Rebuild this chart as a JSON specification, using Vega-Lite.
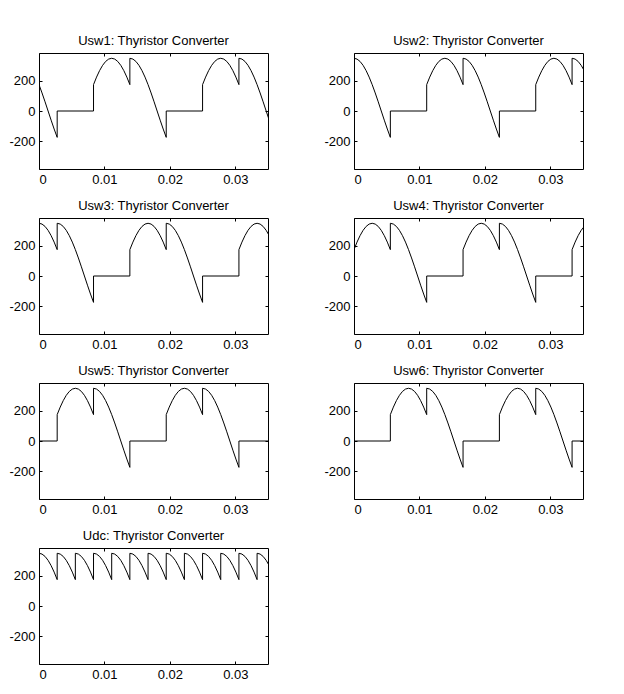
{
"$schema": "https://vega.github.io/schema/vega-lite/v6.json",
"background": "white",
"padding": {"left": 8, "top": 34, "right": 5, "bottom": 0},
"datasets": {"d": [
{"s":"Usw1","t":0,"v":175},{"s":"Usw1","t":0.000463,"v":119.7},{"s":"Usw1","t":0.000926,"v":60.8},{"s":"Usw1","t":0.001389,"v":0},{"s":"Usw1","t":0.001852,"v":-60.8},{"s":"Usw1","t":0.002315,"v":-119.7},{"s":"Usw1","t":0.002778,"v":-175},{"s":"Usw1","t":0.002778,"v":0},{"s":"Usw1","t":0.008333,"v":0},{"s":"Usw1","t":0.008333,"v":175},{"s":"Usw1","t":0.008796,"v":225},{"s":"Usw1","t":0.009259,"v":268.1},{"s":"Usw1","t":0.009722,"v":303.1},{"s":"Usw1","t":0.010185,"v":328.9},{"s":"Usw1","t":0.010648,"v":344.7},{"s":"Usw1","t":0.011111,"v":350},{"s":"Usw1","t":0.011574,"v":344.7},{"s":"Usw1","t":0.012037,"v":328.9},{"s":"Usw1","t":0.0125,"v":303.1},{"s":"Usw1","t":0.012963,"v":268.1},{"s":"Usw1","t":0.013426,"v":225},{"s":"Usw1","t":0.013889,"v":175},{"s":"Usw1","t":0.013889,"v":350},{"s":"Usw1","t":0.014352,"v":344.7},{"s":"Usw1","t":0.014815,"v":328.9},{"s":"Usw1","t":0.015278,"v":303.1},{"s":"Usw1","t":0.015741,"v":268.1},{"s":"Usw1","t":0.016204,"v":225},{"s":"Usw1","t":0.016667,"v":175},{"s":"Usw1","t":0.01713,"v":119.7},{"s":"Usw1","t":0.017593,"v":60.8},{"s":"Usw1","t":0.018056,"v":0},{"s":"Usw1","t":0.018519,"v":-60.8},{"s":"Usw1","t":0.018981,"v":-119.7},{"s":"Usw1","t":0.019444,"v":-175},{"s":"Usw1","t":0.019444,"v":0},{"s":"Usw1","t":0.025,"v":0},{"s":"Usw1","t":0.025,"v":175},{"s":"Usw1","t":0.025463,"v":225},{"s":"Usw1","t":0.025926,"v":268.1},{"s":"Usw1","t":0.026389,"v":303.1},{"s":"Usw1","t":0.026852,"v":328.9},{"s":"Usw1","t":0.027315,"v":344.7},{"s":"Usw1","t":0.027778,"v":350},{"s":"Usw1","t":0.028241,"v":344.7},{"s":"Usw1","t":0.028704,"v":328.9},{"s":"Usw1","t":0.029167,"v":303.1},{"s":"Usw1","t":0.02963,"v":268.1},{"s":"Usw1","t":0.030093,"v":225},{"s":"Usw1","t":0.030556,"v":175},{"s":"Usw1","t":0.030556,"v":350},{"s":"Usw1","t":0.031019,"v":344.7},{"s":"Usw1","t":0.031481,"v":328.9},{"s":"Usw1","t":0.031944,"v":303.1},{"s":"Usw1","t":0.032407,"v":268.1},{"s":"Usw1","t":0.03287,"v":225},{"s":"Usw1","t":0.033333,"v":175},{"s":"Usw1","t":0.033796,"v":119.7},{"s":"Usw1","t":0.034259,"v":60.8},{"s":"Usw1","t":0.034722,"v":0},{"s":"Usw1","t":0.035185,"v":-60.8},
{"s":"Usw2","t":0,"v":350},{"s":"Usw2","t":0.000463,"v":344.7},{"s":"Usw2","t":0.000926,"v":328.9},{"s":"Usw2","t":0.001389,"v":303.1},{"s":"Usw2","t":0.001852,"v":268.1},{"s":"Usw2","t":0.002315,"v":225},{"s":"Usw2","t":0.002778,"v":175},{"s":"Usw2","t":0.003241,"v":119.7},{"s":"Usw2","t":0.003704,"v":60.8},{"s":"Usw2","t":0.004167,"v":0},{"s":"Usw2","t":0.00463,"v":-60.8},{"s":"Usw2","t":0.005093,"v":-119.7},{"s":"Usw2","t":0.005556,"v":-175},{"s":"Usw2","t":0.005556,"v":0},{"s":"Usw2","t":0.011111,"v":0},{"s":"Usw2","t":0.011111,"v":175},{"s":"Usw2","t":0.011574,"v":225},{"s":"Usw2","t":0.012037,"v":268.1},{"s":"Usw2","t":0.0125,"v":303.1},{"s":"Usw2","t":0.012963,"v":328.9},{"s":"Usw2","t":0.013426,"v":344.7},{"s":"Usw2","t":0.013889,"v":350},{"s":"Usw2","t":0.014352,"v":344.7},{"s":"Usw2","t":0.014815,"v":328.9},{"s":"Usw2","t":0.015278,"v":303.1},{"s":"Usw2","t":0.015741,"v":268.1},{"s":"Usw2","t":0.016204,"v":225},{"s":"Usw2","t":0.016667,"v":175},{"s":"Usw2","t":0.016667,"v":350},{"s":"Usw2","t":0.01713,"v":344.7},{"s":"Usw2","t":0.017593,"v":328.9},{"s":"Usw2","t":0.018056,"v":303.1},{"s":"Usw2","t":0.018519,"v":268.1},{"s":"Usw2","t":0.018981,"v":225},{"s":"Usw2","t":0.019444,"v":175},{"s":"Usw2","t":0.019907,"v":119.7},{"s":"Usw2","t":0.02037,"v":60.8},{"s":"Usw2","t":0.020833,"v":0},{"s":"Usw2","t":0.021296,"v":-60.8},{"s":"Usw2","t":0.021759,"v":-119.7},{"s":"Usw2","t":0.022222,"v":-175},{"s":"Usw2","t":0.022222,"v":0},{"s":"Usw2","t":0.027778,"v":0},{"s":"Usw2","t":0.027778,"v":175},{"s":"Usw2","t":0.028241,"v":225},{"s":"Usw2","t":0.028704,"v":268.1},{"s":"Usw2","t":0.029167,"v":303.1},{"s":"Usw2","t":0.02963,"v":328.9},{"s":"Usw2","t":0.030093,"v":344.7},{"s":"Usw2","t":0.030556,"v":350},{"s":"Usw2","t":0.031019,"v":344.7},{"s":"Usw2","t":0.031481,"v":328.9},{"s":"Usw2","t":0.031944,"v":303.1},{"s":"Usw2","t":0.032407,"v":268.1},{"s":"Usw2","t":0.03287,"v":225},{"s":"Usw2","t":0.033333,"v":175},{"s":"Usw2","t":0.033333,"v":350},{"s":"Usw2","t":0.033796,"v":344.7},{"s":"Usw2","t":0.034259,"v":328.9},{"s":"Usw2","t":0.034722,"v":303.1},{"s":"Usw2","t":0.035185,"v":268.1},
{"s":"Usw3","t":0,"v":350},{"s":"Usw3","t":0.000463,"v":344.7},{"s":"Usw3","t":0.000926,"v":328.9},{"s":"Usw3","t":0.001389,"v":303.1},{"s":"Usw3","t":0.001852,"v":268.1},{"s":"Usw3","t":0.002315,"v":225},{"s":"Usw3","t":0.002778,"v":175},{"s":"Usw3","t":0.002778,"v":350},{"s":"Usw3","t":0.003241,"v":344.7},{"s":"Usw3","t":0.003704,"v":328.9},{"s":"Usw3","t":0.004167,"v":303.1},{"s":"Usw3","t":0.00463,"v":268.1},{"s":"Usw3","t":0.005093,"v":225},{"s":"Usw3","t":0.005556,"v":175},{"s":"Usw3","t":0.006019,"v":119.7},{"s":"Usw3","t":0.006481,"v":60.8},{"s":"Usw3","t":0.006944,"v":0},{"s":"Usw3","t":0.007407,"v":-60.8},{"s":"Usw3","t":0.00787,"v":-119.7},{"s":"Usw3","t":0.008333,"v":-175},{"s":"Usw3","t":0.008333,"v":0},{"s":"Usw3","t":0.013889,"v":0},{"s":"Usw3","t":0.013889,"v":175},{"s":"Usw3","t":0.014352,"v":225},{"s":"Usw3","t":0.014815,"v":268.1},{"s":"Usw3","t":0.015278,"v":303.1},{"s":"Usw3","t":0.015741,"v":328.9},{"s":"Usw3","t":0.016204,"v":344.7},{"s":"Usw3","t":0.016667,"v":350},{"s":"Usw3","t":0.01713,"v":344.7},{"s":"Usw3","t":0.017593,"v":328.9},{"s":"Usw3","t":0.018056,"v":303.1},{"s":"Usw3","t":0.018519,"v":268.1},{"s":"Usw3","t":0.018981,"v":225},{"s":"Usw3","t":0.019444,"v":175},{"s":"Usw3","t":0.019444,"v":350},{"s":"Usw3","t":0.019907,"v":344.7},{"s":"Usw3","t":0.02037,"v":328.9},{"s":"Usw3","t":0.020833,"v":303.1},{"s":"Usw3","t":0.021296,"v":268.1},{"s":"Usw3","t":0.021759,"v":225},{"s":"Usw3","t":0.022222,"v":175},{"s":"Usw3","t":0.022685,"v":119.7},{"s":"Usw3","t":0.023148,"v":60.8},{"s":"Usw3","t":0.023611,"v":0},{"s":"Usw3","t":0.024074,"v":-60.8},{"s":"Usw3","t":0.024537,"v":-119.7},{"s":"Usw3","t":0.025,"v":-175},{"s":"Usw3","t":0.025,"v":0},{"s":"Usw3","t":0.030556,"v":0},{"s":"Usw3","t":0.030556,"v":175},{"s":"Usw3","t":0.031019,"v":225},{"s":"Usw3","t":0.031481,"v":268.1},{"s":"Usw3","t":0.031944,"v":303.1},{"s":"Usw3","t":0.032407,"v":328.9},{"s":"Usw3","t":0.03287,"v":344.7},{"s":"Usw3","t":0.033333,"v":350},{"s":"Usw3","t":0.033796,"v":344.7},{"s":"Usw3","t":0.034259,"v":328.9},{"s":"Usw3","t":0.034722,"v":303.1},{"s":"Usw3","t":0.035185,"v":268.1},
{"s":"Usw4","t":0,"v":175},{"s":"Usw4","t":0.000463,"v":225},{"s":"Usw4","t":0.000926,"v":268.1},{"s":"Usw4","t":0.001389,"v":303.1},{"s":"Usw4","t":0.001852,"v":328.9},{"s":"Usw4","t":0.002315,"v":344.7},{"s":"Usw4","t":0.002778,"v":350},{"s":"Usw4","t":0.003241,"v":344.7},{"s":"Usw4","t":0.003704,"v":328.9},{"s":"Usw4","t":0.004167,"v":303.1},{"s":"Usw4","t":0.00463,"v":268.1},{"s":"Usw4","t":0.005093,"v":225},{"s":"Usw4","t":0.005556,"v":175},{"s":"Usw4","t":0.005556,"v":350},{"s":"Usw4","t":0.006019,"v":344.7},{"s":"Usw4","t":0.006481,"v":328.9},{"s":"Usw4","t":0.006944,"v":303.1},{"s":"Usw4","t":0.007407,"v":268.1},{"s":"Usw4","t":0.00787,"v":225},{"s":"Usw4","t":0.008333,"v":175},{"s":"Usw4","t":0.008796,"v":119.7},{"s":"Usw4","t":0.009259,"v":60.8},{"s":"Usw4","t":0.009722,"v":0},{"s":"Usw4","t":0.010185,"v":-60.8},{"s":"Usw4","t":0.010648,"v":-119.7},{"s":"Usw4","t":0.011111,"v":-175},{"s":"Usw4","t":0.011111,"v":0},{"s":"Usw4","t":0.016667,"v":0},{"s":"Usw4","t":0.016667,"v":175},{"s":"Usw4","t":0.01713,"v":225},{"s":"Usw4","t":0.017593,"v":268.1},{"s":"Usw4","t":0.018056,"v":303.1},{"s":"Usw4","t":0.018519,"v":328.9},{"s":"Usw4","t":0.018981,"v":344.7},{"s":"Usw4","t":0.019444,"v":350},{"s":"Usw4","t":0.019907,"v":344.7},{"s":"Usw4","t":0.02037,"v":328.9},{"s":"Usw4","t":0.020833,"v":303.1},{"s":"Usw4","t":0.021296,"v":268.1},{"s":"Usw4","t":0.021759,"v":225},{"s":"Usw4","t":0.022222,"v":175},{"s":"Usw4","t":0.022222,"v":350},{"s":"Usw4","t":0.022685,"v":344.7},{"s":"Usw4","t":0.023148,"v":328.9},{"s":"Usw4","t":0.023611,"v":303.1},{"s":"Usw4","t":0.024074,"v":268.1},{"s":"Usw4","t":0.024537,"v":225},{"s":"Usw4","t":0.025,"v":175},{"s":"Usw4","t":0.025463,"v":119.7},{"s":"Usw4","t":0.025926,"v":60.8},{"s":"Usw4","t":0.026389,"v":0},{"s":"Usw4","t":0.026852,"v":-60.8},{"s":"Usw4","t":0.027315,"v":-119.7},{"s":"Usw4","t":0.027778,"v":-175},{"s":"Usw4","t":0.027778,"v":0},{"s":"Usw4","t":0.033333,"v":0},{"s":"Usw4","t":0.033333,"v":175},{"s":"Usw4","t":0.033796,"v":225},{"s":"Usw4","t":0.034259,"v":268.1},{"s":"Usw4","t":0.034722,"v":303.1},{"s":"Usw4","t":0.035185,"v":328.9},
{"s":"Usw5","t":0,"v":0},{"s":"Usw5","t":0.002778,"v":0},{"s":"Usw5","t":0.002778,"v":175},{"s":"Usw5","t":0.003241,"v":225},{"s":"Usw5","t":0.003704,"v":268.1},{"s":"Usw5","t":0.004167,"v":303.1},{"s":"Usw5","t":0.00463,"v":328.9},{"s":"Usw5","t":0.005093,"v":344.7},{"s":"Usw5","t":0.005556,"v":350},{"s":"Usw5","t":0.006019,"v":344.7},{"s":"Usw5","t":0.006481,"v":328.9},{"s":"Usw5","t":0.006944,"v":303.1},{"s":"Usw5","t":0.007407,"v":268.1},{"s":"Usw5","t":0.00787,"v":225},{"s":"Usw5","t":0.008333,"v":175},{"s":"Usw5","t":0.008333,"v":350},{"s":"Usw5","t":0.008796,"v":344.7},{"s":"Usw5","t":0.009259,"v":328.9},{"s":"Usw5","t":0.009722,"v":303.1},{"s":"Usw5","t":0.010185,"v":268.1},{"s":"Usw5","t":0.010648,"v":225},{"s":"Usw5","t":0.011111,"v":175},{"s":"Usw5","t":0.011574,"v":119.7},{"s":"Usw5","t":0.012037,"v":60.8},{"s":"Usw5","t":0.0125,"v":0},{"s":"Usw5","t":0.012963,"v":-60.8},{"s":"Usw5","t":0.013426,"v":-119.7},{"s":"Usw5","t":0.013889,"v":-175},{"s":"Usw5","t":0.013889,"v":0},{"s":"Usw5","t":0.019444,"v":0},{"s":"Usw5","t":0.019444,"v":175},{"s":"Usw5","t":0.019907,"v":225},{"s":"Usw5","t":0.02037,"v":268.1},{"s":"Usw5","t":0.020833,"v":303.1},{"s":"Usw5","t":0.021296,"v":328.9},{"s":"Usw5","t":0.021759,"v":344.7},{"s":"Usw5","t":0.022222,"v":350},{"s":"Usw5","t":0.022685,"v":344.7},{"s":"Usw5","t":0.023148,"v":328.9},{"s":"Usw5","t":0.023611,"v":303.1},{"s":"Usw5","t":0.024074,"v":268.1},{"s":"Usw5","t":0.024537,"v":225},{"s":"Usw5","t":0.025,"v":175},{"s":"Usw5","t":0.025,"v":350},{"s":"Usw5","t":0.025463,"v":344.7},{"s":"Usw5","t":0.025926,"v":328.9},{"s":"Usw5","t":0.026389,"v":303.1},{"s":"Usw5","t":0.026852,"v":268.1},{"s":"Usw5","t":0.027315,"v":225},{"s":"Usw5","t":0.027778,"v":175},{"s":"Usw5","t":0.028241,"v":119.7},{"s":"Usw5","t":0.028704,"v":60.8},{"s":"Usw5","t":0.029167,"v":0},{"s":"Usw5","t":0.02963,"v":-60.8},{"s":"Usw5","t":0.030093,"v":-119.7},{"s":"Usw5","t":0.030556,"v":-175},{"s":"Usw5","t":0.030556,"v":0},{"s":"Usw5","t":0.035185,"v":0},
{"s":"Usw6","t":0,"v":0},{"s":"Usw6","t":0.005556,"v":0},{"s":"Usw6","t":0.005556,"v":175},{"s":"Usw6","t":0.006019,"v":225},{"s":"Usw6","t":0.006481,"v":268.1},{"s":"Usw6","t":0.006944,"v":303.1},{"s":"Usw6","t":0.007407,"v":328.9},{"s":"Usw6","t":0.00787,"v":344.7},{"s":"Usw6","t":0.008333,"v":350},{"s":"Usw6","t":0.008796,"v":344.7},{"s":"Usw6","t":0.009259,"v":328.9},{"s":"Usw6","t":0.009722,"v":303.1},{"s":"Usw6","t":0.010185,"v":268.1},{"s":"Usw6","t":0.010648,"v":225},{"s":"Usw6","t":0.011111,"v":175},{"s":"Usw6","t":0.011111,"v":350},{"s":"Usw6","t":0.011574,"v":344.7},{"s":"Usw6","t":0.012037,"v":328.9},{"s":"Usw6","t":0.0125,"v":303.1},{"s":"Usw6","t":0.012963,"v":268.1},{"s":"Usw6","t":0.013426,"v":225},{"s":"Usw6","t":0.013889,"v":175},{"s":"Usw6","t":0.014352,"v":119.7},{"s":"Usw6","t":0.014815,"v":60.8},{"s":"Usw6","t":0.015278,"v":0},{"s":"Usw6","t":0.015741,"v":-60.8},{"s":"Usw6","t":0.016204,"v":-119.7},{"s":"Usw6","t":0.016667,"v":-175},{"s":"Usw6","t":0.016667,"v":0},{"s":"Usw6","t":0.022222,"v":0},{"s":"Usw6","t":0.022222,"v":175},{"s":"Usw6","t":0.022685,"v":225},{"s":"Usw6","t":0.023148,"v":268.1},{"s":"Usw6","t":0.023611,"v":303.1},{"s":"Usw6","t":0.024074,"v":328.9},{"s":"Usw6","t":0.024537,"v":344.7},{"s":"Usw6","t":0.025,"v":350},{"s":"Usw6","t":0.025463,"v":344.7},{"s":"Usw6","t":0.025926,"v":328.9},{"s":"Usw6","t":0.026389,"v":303.1},{"s":"Usw6","t":0.026852,"v":268.1},{"s":"Usw6","t":0.027315,"v":225},{"s":"Usw6","t":0.027778,"v":175},{"s":"Usw6","t":0.027778,"v":350},{"s":"Usw6","t":0.028241,"v":344.7},{"s":"Usw6","t":0.028704,"v":328.9},{"s":"Usw6","t":0.029167,"v":303.1},{"s":"Usw6","t":0.02963,"v":268.1},{"s":"Usw6","t":0.030093,"v":225},{"s":"Usw6","t":0.030556,"v":175},{"s":"Usw6","t":0.031019,"v":119.7},{"s":"Usw6","t":0.031481,"v":60.8},{"s":"Usw6","t":0.031944,"v":0},{"s":"Usw6","t":0.032407,"v":-60.8},{"s":"Usw6","t":0.03287,"v":-119.7},{"s":"Usw6","t":0.033333,"v":-175},{"s":"Usw6","t":0.033333,"v":0},{"s":"Usw6","t":0.035185,"v":0},
{"s":"Udc","t":0,"v":350},{"s":"Udc","t":0.000463,"v":344.7},{"s":"Udc","t":0.000926,"v":328.9},{"s":"Udc","t":0.001389,"v":303.1},{"s":"Udc","t":0.001852,"v":268.1},{"s":"Udc","t":0.002315,"v":225},{"s":"Udc","t":0.002778,"v":175},
{"s":"Udc","t":0.002778,"v":350},{"s":"Udc","t":0.003241,"v":344.7},{"s":"Udc","t":0.003704,"v":328.9},{"s":"Udc","t":0.004167,"v":303.1},{"s":"Udc","t":0.00463,"v":268.1},{"s":"Udc","t":0.005093,"v":225},{"s":"Udc","t":0.005556,"v":175},
{"s":"Udc","t":0.005556,"v":350},{"s":"Udc","t":0.006019,"v":344.7},{"s":"Udc","t":0.006481,"v":328.9},{"s":"Udc","t":0.006944,"v":303.1},{"s":"Udc","t":0.007407,"v":268.1},{"s":"Udc","t":0.00787,"v":225},{"s":"Udc","t":0.008333,"v":175},
{"s":"Udc","t":0.008333,"v":350},{"s":"Udc","t":0.008796,"v":344.7},{"s":"Udc","t":0.009259,"v":328.9},{"s":"Udc","t":0.009722,"v":303.1},{"s":"Udc","t":0.010185,"v":268.1},{"s":"Udc","t":0.010648,"v":225},{"s":"Udc","t":0.011111,"v":175},
{"s":"Udc","t":0.011111,"v":350},{"s":"Udc","t":0.011574,"v":344.7},{"s":"Udc","t":0.012037,"v":328.9},{"s":"Udc","t":0.0125,"v":303.1},{"s":"Udc","t":0.012963,"v":268.1},{"s":"Udc","t":0.013426,"v":225},{"s":"Udc","t":0.013889,"v":175},
{"s":"Udc","t":0.013889,"v":350},{"s":"Udc","t":0.014352,"v":344.7},{"s":"Udc","t":0.014815,"v":328.9},{"s":"Udc","t":0.015278,"v":303.1},{"s":"Udc","t":0.015741,"v":268.1},{"s":"Udc","t":0.016204,"v":225},{"s":"Udc","t":0.016667,"v":175},
{"s":"Udc","t":0.016667,"v":350},{"s":"Udc","t":0.01713,"v":344.7},{"s":"Udc","t":0.017593,"v":328.9},{"s":"Udc","t":0.018056,"v":303.1},{"s":"Udc","t":0.018519,"v":268.1},{"s":"Udc","t":0.018981,"v":225},{"s":"Udc","t":0.019444,"v":175},
{"s":"Udc","t":0.019444,"v":350},{"s":"Udc","t":0.019907,"v":344.7},{"s":"Udc","t":0.02037,"v":328.9},{"s":"Udc","t":0.020833,"v":303.1},{"s":"Udc","t":0.021296,"v":268.1},{"s":"Udc","t":0.021759,"v":225},{"s":"Udc","t":0.022222,"v":175},
{"s":"Udc","t":0.022222,"v":350},{"s":"Udc","t":0.022685,"v":344.7},{"s":"Udc","t":0.023148,"v":328.9},{"s":"Udc","t":0.023611,"v":303.1},{"s":"Udc","t":0.024074,"v":268.1},{"s":"Udc","t":0.024537,"v":225},{"s":"Udc","t":0.025,"v":175},
{"s":"Udc","t":0.025,"v":350},{"s":"Udc","t":0.025463,"v":344.7},{"s":"Udc","t":0.025926,"v":328.9},{"s":"Udc","t":0.026389,"v":303.1},{"s":"Udc","t":0.026852,"v":268.1},{"s":"Udc","t":0.027315,"v":225},{"s":"Udc","t":0.027778,"v":175},
{"s":"Udc","t":0.027778,"v":350},{"s":"Udc","t":0.028241,"v":344.7},{"s":"Udc","t":0.028704,"v":328.9},{"s":"Udc","t":0.029167,"v":303.1},{"s":"Udc","t":0.02963,"v":268.1},{"s":"Udc","t":0.030093,"v":225},{"s":"Udc","t":0.030556,"v":175},
{"s":"Udc","t":0.030556,"v":350},{"s":"Udc","t":0.031019,"v":344.7},{"s":"Udc","t":0.031481,"v":328.9},{"s":"Udc","t":0.031944,"v":303.1},{"s":"Udc","t":0.032407,"v":268.1},{"s":"Udc","t":0.03287,"v":225},{"s":"Udc","t":0.033333,"v":175},
{"s":"Udc","t":0.033333,"v":350},{"s":"Udc","t":0.033796,"v":344.7},{"s":"Udc","t":0.034259,"v":328.9},{"s":"Udc","t":0.034722,"v":303.1},{"s":"Udc","t":0.035185,"v":268.1}
]},
"data": {"name": "d"},
"columns": 2,
"spacing": {"row": 12, "column": 54},
"facet": {
  "field": "s", "type": "nominal",
  "sort": ["Usw1","Usw2","Usw3","Usw4","Usw5","Usw6","Udc"],
  "header": {"title": null, "labelExpr": "datum.value + ': Thyristor Converter'", "labelFont": "Liberation Sans", "labelFontSize": 13, "labelColor": "black", "labelPadding": 5}
},
"spec": {
  "width": 229, "height": 116,
  "layer": [
    {"mark": {"type": "line", "color": "black", "strokeWidth": 1, "clip": true},
     "encoding": {
       "x": {"field": "t", "type": "quantitative", "scale": {"domain": [0, 0.035], "nice": false, "zero": false},
             "axis": {"orient": "bottom", "title": null, "values": [0, 0.01, 0.02, 0.03], "format": ".2~f"}},
       "y": {"field": "v", "type": "quantitative", "scale": {"domain": [-385, 385], "nice": false},
             "axis": {"orient": "left", "title": null, "values": [-200, 0, 200], "labelExpr": "datum.value + ''"}},
       "order": {"value": null}
     }},
    {"mark": {"type": "line", "opacity": 0, "clip": true},
     "encoding": {
       "x": {"field": "t", "type": "quantitative", "scale": {"domain": [0, 0.035], "nice": false, "zero": false},
             "axis": {"orient": "top", "title": null, "values": [0, 0.01, 0.02, 0.03], "labels": false}},
       "y": {"field": "v", "type": "quantitative", "scale": {"domain": [-385, 385], "nice": false},
             "axis": {"orient": "right", "title": null, "values": [-200, 0, 200], "labels": false}}
     }}
  ],
  "resolve": {"axis": {"x": "independent", "y": "independent"}}
},
"resolve": {"axis": {"x": "independent", "y": "independent"}},
"config": {
  "view": {"stroke": "black", "strokeWidth": 1},
  "axis": {"domain": false, "grid": false, "tickColor": "black", "tickSize": -3, "labelPadding": 7, "labelFont": "Liberation Sans", "labelFontSize": 13, "labelColor": "black"}
}
}
